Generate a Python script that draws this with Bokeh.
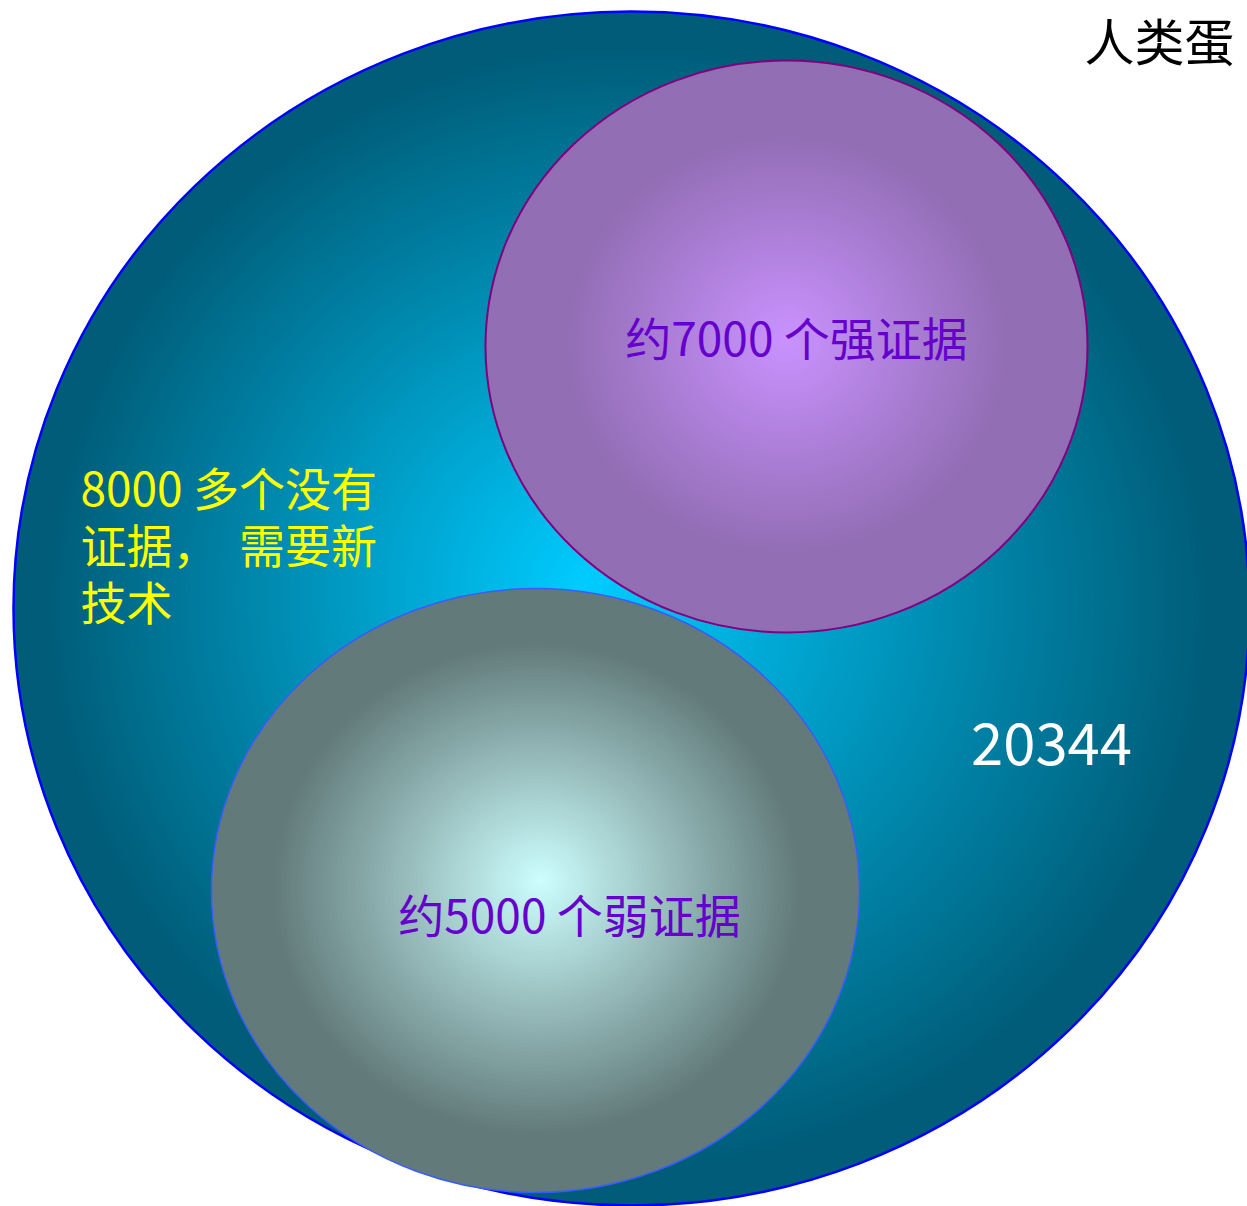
import numpy as np
from bokeh.plotting import figure
from bokeh.models import Range1d, ColumnDataSource
from bokeh.embed import file_html
from bokeh.resources import INLINE
from bokeh.core.properties import value

# ---------------- data ----------------
total_genes = 20344
strong_count = 7000
weak_count = 5000
none_count = 8000
title_text = "人类蛋"
strong_label = f"约{strong_count} 个强证据"
weak_label = f"约{weak_count} 个弱证据"
none_lines = [f"{none_count} 多个没有", "证据，\u00a0\u00a0需要新", "技术"]

# ---------------- layout (pixel-like data units) ----------------
W, H = 1247, 1206
FONT = "Noto Sans CJK SC"

big_shape = dict(cx=631, cy=608, w=1236, h=1194, fx=585, fy=580)
strong_shape = dict(cx=786, cy=346, w=602, h=572, fx=786, fy=338)
weak_shape = dict(cx=535, cy=890, w=648, h=604, fx=540, fy=880)

p = figure(width=W, height=H, x_range=Range1d(0, W), y_range=Range1d(H, 0),
           output_backend="svg", toolbar_location=None, min_border=0)
p.axis.visible = False
p.grid.visible = False
p.outline_line_color = None
p.background_fill_color = "white"
p.border_fill_color = "white"


def hexcol(c):
    return "#%02x%02x%02x" % tuple(int(round(v)) for v in c)


def gradient_ellipse(shape, c_in, c_out, plateau, gamma, n, line_color, line_width):
    cx, cy, w, h, fx, fy = (shape[k] for k in ("cx", "cy", "w", "h", "fx", "fy"))
    s = np.linspace(1.0, 0.01, n)
    t = np.clip(s / plateau, 0, 1) ** gamma
    ci, co = np.array(c_in, float), np.array(c_out, float)
    cols = [hexcol(ci * (1 - ti) + co * ti) for ti in t]
    src = ColumnDataSource(dict(x=fx + s * (cx - fx), y=fy + s * (cy - fy),
                                w=w * s, h=h * s, c=cols))
    p.ellipse(x="x", y="y", width="w", height="h",
              fill_color="c", line_color=None, source=src)
    p.ellipse(x=[cx], y=[cy], width=[w], height=[h], fill_color=None,
              line_color=line_color, line_width=line_width)


gradient_ellipse(big_shape, (0, 204, 255), (0, 92, 120), 0.95, 1.0, 120, "#0000ff", 2.5)
gradient_ellipse(strong_shape, (202, 146, 255), (146, 110, 180), 0.74, 1.0, 80, "#800080", 2)
gradient_ellipse(weak_shape, (206, 255, 255), (98, 122, 122), 0.82, 1.0, 80, "#3a5cff", 1.5)

# texts
p.text(x=[796], y=[335], text=[strong_label], text_font=value(FONT), text_font_size="46px",
       text_color="#6600cc", text_align="center", text_baseline="alphabetic")
p.text(x=[569], y=[912], text=[weak_label], text_font=value(FONT), text_font_size="46px",
       text_color="#6600cc", text_align="center", text_baseline="alphabetic")
p.text(x=[80, 80, 80], y=[485, 542, 599], text=none_lines, text_font=value(FONT),
       text_font_size="46px", text_color="#ffff00", text_align="left", text_baseline="alphabetic")
p.text(x=[1051], y=[743], text=[str(total_genes)], text_font=value(FONT), text_font_size="58px",
       text_color="white", text_align="center", text_baseline="alphabetic")
p.text(x=[1084], y=[38], text=[title_text], text_font=value(FONT), text_font_size="50px",
       text_color="black", text_align="left", text_baseline="alphabetic")

open("out.html", "w").write(file_html(p, INLINE))
